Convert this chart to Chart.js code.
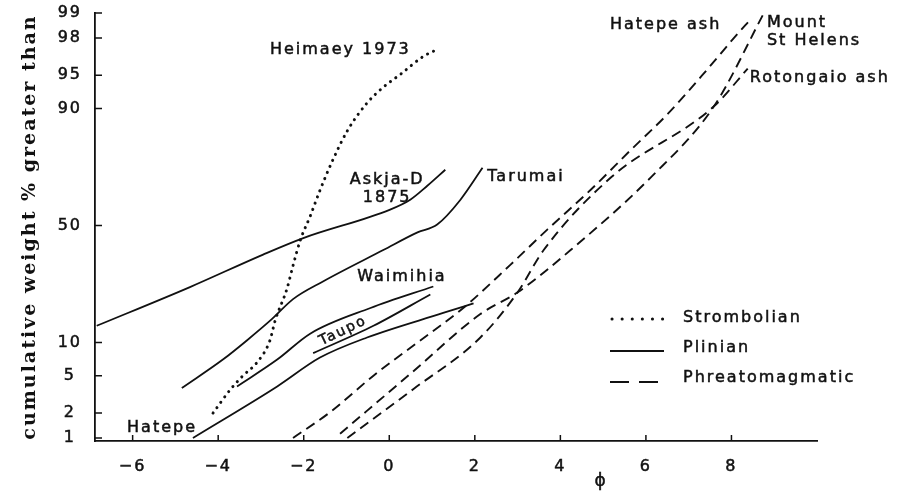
<!DOCTYPE html>
<html>
<head>
<meta charset="utf-8">
<script src="https://cdn.jsdelivr.net/npm/chart.js@4.4.1/dist/chart.umd.min.js"></script>
<style>
  html, body { margin: 0; padding: 0; background: #fff; }
  #wrap { width: 909px; height: 500px; }
</style>
</head>
<body>
<div id="wrap"><canvas id="grainChart" width="909" height="500"></canvas></div>
<script>
// grain size (phi) and cumulative weight % greater than
const heimaeyPhi = [-4.12, -3.72, -3.42, -3.09, -2.79, -2.67, -2.39, -2.25, -2.08, -1.85, -1.62, -1.33, -0.98, -0.52, -0.14, 0.26, 0.80, 1.12];
const heimaeyPct = [2, 3.6, 5, 6.7, 10.4, 14.8, 24.5, 33, 43.6, 54, 65, 76, 85, 91, 93.5, 95.1, 96.8, 97.3];

const askjaPhi = [-6.84, -4.66, -2.95, -2.01, 0.02, 0.49, 0.89, 1.31];
const askjaPct = [13.6, 25, 37.5, 44.5, 56.9, 61.1, 66.8, 72.9];

const tarumaiPhi = [-4.85, -3.89, -3.33, -2.74, -2.25, -1.55, -0.14, 0.66, 1.12, 1.66, 2.18];
const tarumaiPct = [3.75, 7.1, 10.4, 15.3, 21, 27, 39.4, 47, 50.4, 61, 73.6];

const waimihiaPhi = [-3.56, -2.62, -1.85, -0.44, 1.03];
const waimihiaPct = [3.9, 7.1, 11.8, 18.3, 25.2];

const taupoPhi = [-1.78, -0.37, 0.96];
const taupoPct = [8.1, 13.6, 22.5];

const hatepePhi = [-4.59, -2.62, -1.62, -0.52, 1.26, 1.97];
const hatepePct = [1, 3.9, 7.4, 11, 16.9, 19.7];

const hatepeAshPhi = [-2.25, -1.38, -0.37, 0.66, 1.73, 2.83, 3.70, 4.71, 5.64, 6.51, 7.45, 8.06, 8.45];
const hatepeAshPct = [1, 2.05, 5, 10, 18.3, 33.3, 48.3, 65.2, 79.5, 88.9, 95.7, 98, 98.8];

const stHelensPhi = [-1.15, 0.49, 2.13, 3.0, 4.24, 6.11, 7.59, 8.76];
const stHelensPct = [1.13, 5.2, 16.6, 23.2, 39.4, 70, 90.4, 99];

const rotongaioPhi = [-0.98, 0.56, 2.13, 3.0, 3.61, 5.18, 7.59, 8.38];
const rotongaioPct = [1, 3.65, 11, 23.2, 39.4, 70, 90.4, 95.7];

const X_TICKS = [-6, -4, -2, 0, 2, 4, 6, 8];
const Y_TICKS = [1, 2, 5, 10, 50, 90, 95, 98, 99];

const LEGEND_ITEMS = ['Strombolian', 'Plinian', 'Phreatomagmatic'];

// curve names, anchored in data units
const CURVE_LABELS = [
    { lines: ['Heimaey 1973'], phi: -2.79, pct: 97.26, align: 'left' },
    { lines: ['Askja-D', '1875'], phi: -0.05, pct: 69.1, align: 'center' },
    { lines: ['Tarumai'], phi: 2.29, pct: 70.2, align: 'left' },
    { lines: ['Waimihia'], phi: -0.75, pct: 28.6, align: 'left' },
    { lines: ['Taupo'], phi: -1.08, pct: 12.4, align: 'center', angle: -0.45 },
    { lines: ['Hatepe'], phi: -6.13, pct: 1.33, align: 'left' },
    { lines: ['Hatepe ash'], phi: 5.16, pct: 98.59, align: 'left' },
    { lines: ['Mount', 'St Helens'], phi: 8.83, pct: 98.67, align: 'left' },
    { lines: ['Rotongaio ash'], phi: 8.43, pct: 94.68, align: 'left' }
];

const INK = '#111';
const TEXT_FONT = '16px "DejaVu Sans"';

// inverse normal cdf (Acklam) -> probability axis
function probit(p) {
    const a = [-39.69683028665376, 220.9460984245205, -275.9285104469687, 138.3577518672690, -30.66479806614716, 2.506628277459239];
    const b = [-54.47609879822406, 161.5858368580409, -155.6989798598866, 66.80131188771972, -13.28068155288572];
    const c = [-0.007784894002430293, -0.3223964580411365, -2.400758277161838, -2.549732539343734, 4.374664141464968, 2.938163982698783];
    const d = [0.007784695709041462, 0.3224671290700398, 2.445134137142996, 3.754408661907416];
    const lo = 0.02425;
    let q, r;
    if (p < lo) {
        q = Math.sqrt(-2 * Math.log(p));
        return (((((c[0]*q+c[1])*q+c[2])*q+c[3])*q+c[4])*q+c[5]) / ((((d[0]*q+d[1])*q+d[2])*q+d[3])*q+1);
    }
    if (p <= 1 - lo) {
        q = p - 0.5; r = q * q;
        return (((((a[0]*r+a[1])*r+a[2])*r+a[3])*r+a[4])*r+a[5])*q / (((((b[0]*r+b[1])*r+b[2])*r+b[3])*r+b[4])*r+1);
    }
    q = Math.sqrt(-2 * Math.log(1 - p));
    return -(((((c[0]*q+c[1])*q+c[2])*q+c[3])*q+c[4])*q+c[5]) / ((((d[0]*q+d[1])*q+d[2])*q+d[3])*q+1);
}

function toPoints(phi, pct) {
    return phi.map((x, i) => ({ x: x, y: probit(pct[i] / 100) }));
}

const STYLE = {
    strombolian: { borderDash: [0.1, 6.5], borderWidth: 3, borderCapStyle: 'round' },
    plinian: { borderDash: [], borderWidth: 1.8, borderCapStyle: 'butt' },
    phreato: { borderDash: [10, 6], borderWidth: 1.9, borderCapStyle: 'butt' }
};

function series(label, phi, pct, kind) {
    return Object.assign({
        label: label,
        data: toPoints(phi, pct),
        borderColor: INK,
        backgroundColor: INK,
        pointRadius: 0,
        fill: false,
        cubicInterpolationMode: 'monotone'
    }, STYLE[kind]);
}

// inward tick marks on both axes
const innerTicks = {
    id: 'innerTicks',
    beforeDraw(chart) {
        chart.ctx.letterSpacing = '2px';
    },
    afterDraw(chart) {
        const ctx = chart.ctx;
        const xs = chart.scales.x, ys = chart.scales.y;
        const area = chart.chartArea;
        ctx.save();
        ctx.strokeStyle = INK;
        ctx.lineWidth = 1.5;
        ctx.beginPath();
        X_TICKS.forEach(v => {
            const px = xs.getPixelForValue(v);
            ctx.moveTo(px, area.bottom);
            ctx.lineTo(px, area.bottom - 6);
        });
        Y_TICKS.forEach(p => {
            const py = ys.getPixelForValue(probit(p / 100));
            ctx.moveTo(area.left, py);
            ctx.lineTo(area.left + 7, py);
        });
        ctx.stroke();
        ctx.restore();
    }
};

function inkText(ctx, t, x, y) {
    ctx.fillText(t, x, y);
    ctx.strokeText(t, x, y);
}

// curve names, phi axis title and the key
const annotations = {
    id: 'annotations',
    afterDatasetsDraw(chart) {
        const ctx = chart.ctx;
        const xs = chart.scales.x, ys = chart.scales.y;
        ctx.save();
        ctx.fillStyle = INK;
        ctx.strokeStyle = INK;
        ctx.lineWidth = 0.5;
        ctx.font = TEXT_FONT;
        ctx.letterSpacing = '2px';
        ctx.textBaseline = 'middle';
        CURVE_LABELS.forEach(l => {
            const px = xs.getPixelForValue(l.phi);
            const py = ys.getPixelForValue(probit(l.pct / 100));
            ctx.save();
            ctx.translate(px, py);
            if (l.angle) ctx.rotate(l.angle);
            ctx.textAlign = l.align;
            if (l.angle) ctx.font = '14px "DejaVu Sans"';
            l.lines.forEach((t, i) => inkText(ctx, t, 0, i * 18));
            ctx.restore();
        });

        // phi axis title
        ctx.textAlign = 'center';
        ctx.font = '17px "DejaVu Sans"';
        inkText(ctx, '\u03d5', xs.getPixelForValue(4.95), xs.top + 41);

        // key
        const kx = 610, ky = 318, step = 30;
        ctx.font = TEXT_FONT;
        ctx.textAlign = 'left';
        LEGEND_ITEMS.forEach((name, i) => {
            inkText(ctx, name, kx + 73, ky + i * step);
        });
        ctx.lineWidth = 3;
        ctx.lineCap = 'round';
        ctx.setLineDash([0.1, 10]);
        ctx.beginPath();
        ctx.moveTo(kx + 2, ky + 1); ctx.lineTo(kx + 54, ky + 1);
        ctx.stroke();
        ctx.lineCap = 'butt';
        ctx.lineWidth = 1.8;
        ctx.setLineDash([]);
        ctx.beginPath();
        ctx.moveTo(kx, ky + step + 3); ctx.lineTo(kx + 54, ky + step + 3);
        ctx.stroke();
        ctx.setLineDash([19, 10]);
        ctx.beginPath();
        ctx.moveTo(kx, ky + 2 * step + 4); ctx.lineTo(kx + 54, ky + 2 * step + 4);
        ctx.stroke();
        ctx.restore();
    }
};

new Chart(document.getElementById('grainChart'), {
    type: 'line',
    data: {
        datasets: [
            series('Heimaey 1973', heimaeyPhi, heimaeyPct, 'strombolian'),
            series('Askja-D 1875', askjaPhi, askjaPct, 'plinian'),
            series('Tarumai', tarumaiPhi, tarumaiPct, 'plinian'),
            series('Waimihia', waimihiaPhi, waimihiaPct, 'plinian'),
            series('Taupo', taupoPhi, taupoPct, 'plinian'),
            series('Hatepe', hatepePhi, hatepePct, 'plinian'),
            series('Hatepe ash', hatepeAshPhi, hatepeAshPct, 'phreato'),
            series('Mount St Helens', stHelensPhi, stHelensPct, 'phreato'),
            series('Rotongaio ash', rotongaioPhi, rotongaioPct, 'phreato')
        ]
    },
    options: {
        responsive: false,
        animation: false,
        devicePixelRatio: 1,
        layout: { padding: { top: 13, right: 92, left: 0, bottom: 0 } },
        plugins: {
            legend: { display: false },
            tooltip: { enabled: false }
        },
        scales: {
            x: {
                type: 'linear',
                min: -6.88,
                max: 10,
                afterFit(scale) {
                    scale.height = 59;
                    scale.paddingLeft = 0;
                    scale.paddingRight = 0;
                },
                afterBuildTicks(scale) { scale.ticks = X_TICKS.map(v => ({ value: v })); },
                grid: { display: false, drawTicks: false },
                border: { display: true, color: INK, width: 1.8 },
                ticks: {
                    autoSkip: false,
                    maxRotation: 0,
                    padding: 16,
                    color: INK,
                    textStrokeColor: INK,
                    textStrokeWidth: 0.5,
                    font: { family: 'DejaVu Sans', size: 16 },
                    callback: v => (v < 0 ? '\u2212' + Math.abs(v) : String(v))
                }
            },
            y: {
                type: 'linear',
                min: -2.36,
                max: probit(0.99),
                afterFit(scale) {
                    scale.width = 95;
                    scale.paddingTop = 0;
                    scale.paddingBottom = 0;
                },
                afterBuildTicks(scale) { scale.ticks = Y_TICKS.map(p => ({ value: probit(p / 100) })); },
                grid: { display: false, drawTicks: false },
                border: { display: true, color: INK, width: 1.8 },
                ticks: {
                    autoSkip: false,
                    crossAlign: 'center',
                    padding: 15,
                    color: INK,
                    textStrokeColor: INK,
                    textStrokeWidth: 0.5,
                    font: { family: 'DejaVu Sans', size: 16 },
                    callback: (v, i) => String(Y_TICKS[i])
                },
                title: {
                    display: true,
                    text: 'cumulative weight % greater than',
                    color: INK,
                    font: { family: 'DejaVu Serif', size: 19, weight: 'bold' },
                    padding: { top: 19, bottom: 0 }
                }
            }
        }
    },
    plugins: [innerTicks, annotations]
});
</script>
</body>
</html>
